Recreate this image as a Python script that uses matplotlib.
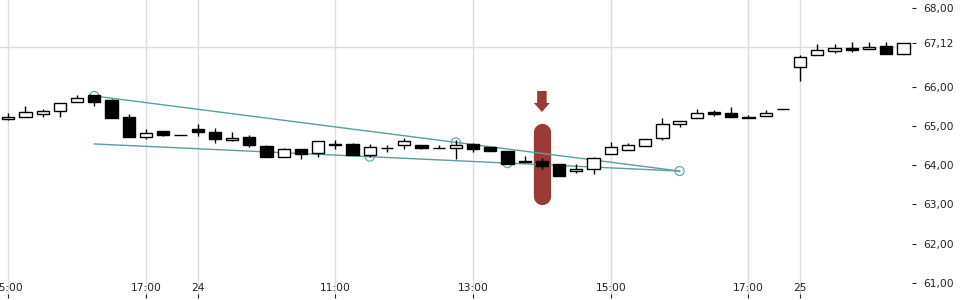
import matplotlib
matplotlib.use("Agg")
import matplotlib.pyplot as plt
from matplotlib.patches import FancyArrow
import numpy as np

# ---- data (15-minute candles) ----
opens  = [65.17, 65.22, 65.30, 65.37, 65.60, 65.78, 65.66, 65.22, 64.72, 64.87,
          64.77, 64.92, 64.84, 64.63, 64.72, 64.49, 64.20, 64.41, 64.30, 64.52,
          64.54, 64.26, 64.43, 64.51, 64.51, 64.44, 64.43, 64.54, 64.47, 64.36,
          64.07, 64.10, 64.03, 63.84, 63.89, 64.28, 64.38, 64.48, 64.68, 65.04,
          65.19, 65.35, 65.33, 65.23, 65.24, 65.42, 66.51, 66.80, 66.90, 66.98,
          66.95, 67.03, 66.84]
highs  = [65.32, 65.51, 65.42, 65.57, 65.79, 65.79, 65.68, 65.29, 64.92, 64.87,
          64.78, 65.05, 64.95, 64.84, 64.77, 64.51, 64.44, 64.41, 64.62, 64.65,
          64.56, 64.54, 64.51, 64.68, 64.51, 64.51, 64.64, 64.56, 64.47, 64.36,
          64.23, 64.19, 64.03, 64.02, 64.22, 64.59, 64.57, 64.66, 65.20, 65.12,
          65.42, 65.40, 65.48, 65.27, 65.40, 65.42, 66.80, 67.08, 67.08, 67.14,
          67.14, 67.13, 67.12]
lows   = [65.16, 65.22, 65.22, 65.23, 65.60, 65.51, 65.21, 64.72, 64.67, 64.75,
          64.77, 64.75, 64.57, 64.61, 64.47, 64.22, 64.20, 64.15, 64.20, 64.40,
          64.26, 64.20, 64.34, 64.41, 64.42, 64.44, 64.16, 64.34, 64.37, 64.04,
          64.07, 63.89, 63.73, 63.81, 63.77, 64.28, 64.38, 64.48, 64.65, 64.98,
          65.19, 65.24, 65.22, 65.19, 65.24, 65.42, 66.15, 66.80, 66.85, 66.87,
          66.95, 66.82, 66.84]
closes = [65.23, 65.35, 65.38, 65.57, 65.71, 65.60, 65.21, 64.72, 64.82, 64.78,
          64.77, 64.85, 64.66, 64.69, 64.51, 64.22, 64.40, 64.29, 64.62, 64.53,
          64.26, 64.45, 64.43, 64.62, 64.44, 64.44, 64.51, 64.40, 64.37, 64.04,
          64.11, 63.97, 63.73, 63.89, 64.18, 64.45, 64.51, 64.66, 65.04, 65.12,
          65.32, 65.29, 65.22, 65.19, 65.32, 65.42, 66.76, 66.93, 66.97, 66.93,
          67.02, 66.82, 67.12]

tick_positions = [0, 8, 11, 19, 27, 35, 43, 46]
tick_labels = ["15:00", "17:00", "24", "11:00", "13:00", "15:00", "17:00", "25"]

y_ticks = [61, 62, 63, 64, 65, 66, 67.12, 68]
y_grid = [61, 62, 63, 64, 65, 66, 67, 68]

# trend lines (index, price)
upper_line_x = [5, 39]
upper_line_y = [65.76, 63.85]
lower_line_x = [5, 39]
lower_line_y = [64.54, 63.85]
touch_x = [5, 21, 26, 29, 39]
touch_y = [65.76, 64.215, 64.58, 64.05, 63.85]

marker_index = 31
marker_top = 64.844
marker_bottom = 63.207
arrow_top = 65.888
arrow_tip = 65.353

# ---- figure ----
fig = plt.figure(figsize=(9.6, 3.0), dpi=100)
ax = fig.add_axes([0, 2 / 300, 912 / 960, 298 / 300])

px_per_unit = 39.29
ytop = 68 + 8 / px_per_unit
ybot = ytop - 298 / px_per_unit
ax.set_ylim(ybot, ytop)
ax.set_xlim(-0.48, 52.5)

for s in ax.spines.values():
    s.set_visible(False)

grid_c = "#dcdcdc"
ax.set_xticks(tick_positions)
ax.set_xticklabels(tick_labels)
ax.grid(axis="x", color=grid_c, lw=1.0)
ax.set_yticks(y_ticks)
ax.set_yticklabels([f"{v:.2f}".replace(".", ",") for v in y_ticks])
ax.set_yticks(y_grid, minor=True)
ax.grid(axis="y", which="minor", color=grid_c, lw=1.0)
ax.grid(axis="y", which="major", visible=False)
ax.yaxis.tick_right()
ax.tick_params(axis="y", which="major", direction="out", length=2.9, width=0.8,
               pad=5, labelsize=7.7, colors="#222222")
ax.tick_params(axis="y", which="minor", length=0)
ax.tick_params(axis="x", direction="in", length=2.6, width=0.8, pad=-10.5,
               labelsize=7.7, colors="#222222")
ax.set_axisbelow(True)

# ---- trend lines ----
teal = "#5a9ea0"
ax.plot(upper_line_x, upper_line_y, color=teal, lw=1.0, zorder=4)
ax.plot(lower_line_x, lower_line_y, color=teal, lw=1.0, zorder=4)
ax.scatter(touch_x, touch_y, s=42, facecolors="none", edgecolors=teal,
           linewidths=0.8, zorder=4)

# ---- marker bar + arrow ----
red = "#9a3a36"
ax.plot([marker_index, marker_index], [marker_bottom, marker_top], color=red,
        lw=12.45, solid_capstyle="round", zorder=3)
ax.add_patch(FancyArrow(marker_index, arrow_top, 0, arrow_tip - arrow_top,
                        width=0.55, head_width=0.93, head_length=0.23,
                        length_includes_head=True, color=red, lw=0, zorder=3))

# ---- candles ----
x = np.arange(len(opens))
o = np.array(opens); c = np.array(closes)
ax.vlines(x, lows, highs, color="black", lw=1.0, zorder=5)
up = c >= o
body_bottom = np.minimum(o, c)
body_h = np.abs(c - o)
ax.bar(x[up], body_h[up], bottom=body_bottom[up], width=0.71,
       color="white", edgecolor="black", linewidth=1.0, zorder=6)
ax.bar(x[~up], body_h[~up], bottom=body_bottom[~up], width=0.71,
       color="black", edgecolor="black", linewidth=1.0, zorder=6)

fig.savefig("out.png", dpi=100)
